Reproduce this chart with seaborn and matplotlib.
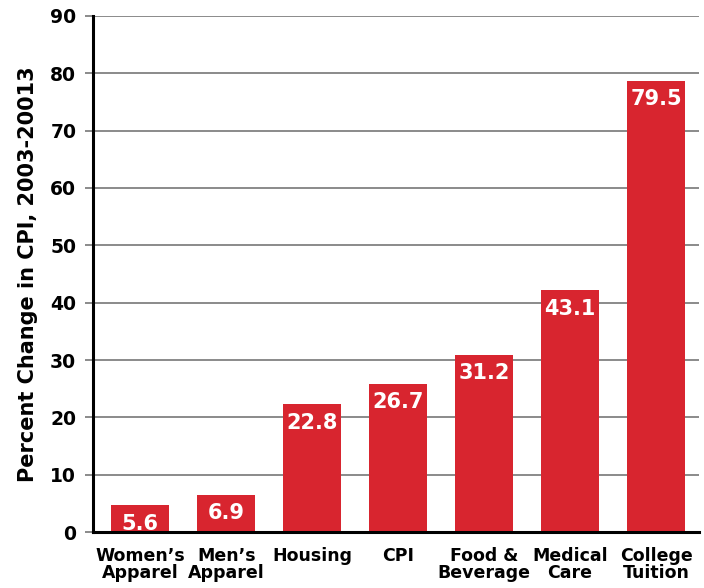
import matplotlib
matplotlib.use("Agg")
import matplotlib.pyplot as plt
import seaborn as sns
import pandas as pd

categories = ["Women\u2019s\nApparel", "Men\u2019s\nApparel", "Housing", "CPI",
              "Food &\nBeverage", "Medical\nCare", "College\nTuition"]
bar_heights = [4.7, 6.5, 22.3, 25.9, 30.9, 42.2, 78.7]
value_labels = ["5.6", "6.9", "22.8", "26.7", "31.2", "43.1", "79.5"]
y_ticks = [0, 10, 20, 30, 40, 50, 60, 70, 80, 90]
y_label = "Percent Change in CPI, 2003-20013"

sns.set_style("white")
plt.rcParams['font.family'] = ['DejaVu Sans']
plt.rcParams['text.color'] = 'black'
plt.rcParams['axes.labelcolor'] = 'black'
plt.rcParams['xtick.color'] = 'black'
plt.rcParams['ytick.color'] = 'black'

df = pd.DataFrame({"cat": categories, "val": bar_heights})

fig = plt.figure(figsize=(7.04, 5.88), dpi=100)
ax = fig.add_axes([0.132, 0.095, 0.861, 0.878])

red = "#d8252f"
sns.barplot(data=df, x="cat", y="val", color=red, width=0.67,
            saturation=1, ax=ax, zorder=3, linewidth=0, edgecolor=red)

ax.set_ylim(0, 90)
ax.set_xlim(-0.55, 6.5)
ax.set_yticks(y_ticks)
ax.yaxis.grid(True, color="#8a8a8a", linewidth=1.4, zorder=0)
ax.set_axisbelow(True)

for s in ["top", "right"]:
    ax.spines[s].set_visible(False)
for s in ["left", "bottom"]:
    ax.spines[s].set_color("black")
    ax.spines[s].set_linewidth(2.2)
    ax.spines[s].set_zorder(5)

ax.tick_params(axis="y", length=6, width=1.4, color="#8a8a8a", labelcolor="black",
               labelsize=13.5, pad=6, left=True)
ax.tick_params(axis="x", length=0, labelsize=12.5, pad=11, labelcolor="black")
for t in ax.get_yticklabels():
    t.set_fontweight("bold")
for t in ax.get_xticklabels():
    t.set_fontweight("bold")
    t.set_linespacing(0.9)

ax.set_xlabel("")
ax.set_ylabel(y_label, fontsize=15, fontweight="bold", labelpad=9, color="black")

for i, (h, lab) in enumerate(zip(bar_heights, value_labels)):
    ax.text(i, h - 1.5, lab, ha="center", va="top", color="white",
            fontsize=15, fontweight="bold", zorder=6)

fig.savefig("out.png", dpi=100)
